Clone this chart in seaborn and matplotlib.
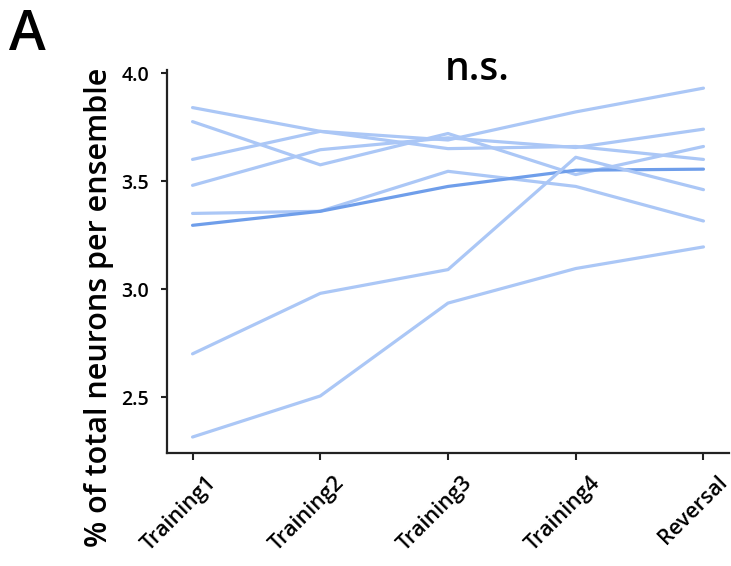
import matplotlib
matplotlib.use("Agg")
import matplotlib.pyplot as plt
import matplotlib.transforms as mtransforms
import seaborn as sns
import pandas as pd

sessions = ["Training1", "Training2", "Training3", "Training4", "Reversal"]
yticks = [2.5, 3.0, 3.5, 4.0]

ens_a = [3.84, 3.73, 3.65, 3.66, 3.60]
ens_b = [3.775, 3.575, 3.72, 3.53, 3.66]
ens_c = [3.60, 3.73, 3.69, 3.82, 3.93]
ens_d = [3.48, 3.645, 3.70, 3.655, 3.74]
ens_e = [3.35, 3.36, 3.545, 3.475, 3.315]
ens_f = [3.295, 3.36, 3.475, 3.55, 3.555]
ens_g = [2.70, 2.98, 3.09, 3.61, 3.46]
ens_h = [2.315, 2.505, 2.935, 3.095, 3.195]

series = {"a": ens_a, "b": ens_b, "c": ens_c, "d": ens_d,
          "e": ens_e, "f": ens_f, "g": ens_g, "h": ens_h}

rows = []
for name, vals in series.items():
    for s, v in zip(sessions, vals):
        rows.append({"id": name, "session": s, "value": v})
df = pd.DataFrame(rows)

light = "#abc7f6"
dark = "#6f9eea"
palette = {k: light for k in series}
palette["f"] = dark

sns.set_style("white")
plt.rcParams["font.family"] = ["Open Sans", "DejaVu Sans"]
plt.rcParams["text.color"] = "black"

fig = plt.figure(figsize=(7.31, 5.66), dpi=100)
ax = fig.add_axes([167 / 731, 1 - 453 / 566, (729 - 167) / 731, (453 - 70) / 566])

sns.lineplot(data=df, x="session", y="value", hue="id", palette=palette,
             legend=False, linewidth=2.3, ax=ax, sort=False)

ax.set_xlim(-0.2, 4.2)
ax.set_ylim(2.241, 4.014)
ax.set_xlabel("")
ax.set_ylabel("")
for side in ["top", "right"]:
    ax.spines[side].set_visible(False)
for side in ["left", "bottom"]:
    ax.spines[side].set_color("#222222")
    ax.spines[side].set_linewidth(1.6)
ax.tick_params(axis="y", direction="out", length=4, width=1.5, pad=9, left=True, colors="#222222")
ax.tick_params(axis="x", direction="out", length=5, width=1.5, pad=14, bottom=True, colors="#222222")

ax.set_yticks(yticks)
ax.set_yticklabels([f"{t:.1f}" for t in yticks], fontsize=14, fontweight="semibold")
ax.set_xticks(range(len(sessions)))
ax.set_xticklabels(sessions, fontsize=15.5, fontweight="semibold",
                   rotation=45, ha="right", va="center", rotation_mode="anchor")
for lab in ax.get_xticklabels() + ax.get_yticklabels():
    lab.set_color("black")

offset = mtransforms.ScaledTranslation(21 / 100, 0, fig.dpi_scale_trans)
for tick in ax.xaxis.get_major_ticks():
    tick.label1.set_transform(tick.label1.get_transform() + offset)

fig.text(99 / 731, 1 - 307 / 566, "% of total neurons per ensemble", rotation=90,
         ha="center", va="center", fontsize=22, fontweight="semibold", color="black")
fig.text(9 / 731, 1 - 50 / 566, "A", fontsize=40, fontweight="semibold",
         ha="left", va="baseline", color="black")
fig.text(477 / 731, 1 - 80 / 566, "n.s.", fontsize=28, fontweight="semibold",
         ha="center", va="baseline", color="black")

fig.savefig("out.png", dpi=100)
